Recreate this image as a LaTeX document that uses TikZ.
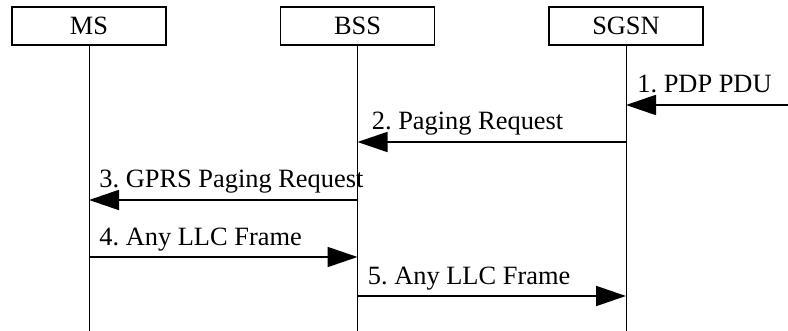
\documentclass[tikz,border=0pt]{standalone}
\usepackage{fontspec}
\setmainfont{Liberation Serif}
\usetikzlibrary{arrows.meta}
\frenchspacing
\begin{document}
\begin{tikzpicture}[x=0.5pt, y=-0.5pt, >={Triangle[length=15pt,width=10pt]},
    entity/.style={draw, line width=0.65pt, minimum width=77pt, minimum height=19pt,
        inner sep=0pt, font=\fontsize{13.2}{15}\selectfont},
    life/.style={line width=0.5pt},
    msg/.style={->, line width=0.9pt},
    lbl/.style={anchor=base west, inner sep=0pt, font=\fontsize{13.2}{15}\selectfont}]
    \useasboundingbox (0,0) rectangle (788,331);

    \node[entity] (ms) at (89,26) {MS};
    \node[entity] (bss) at (357.5,26) {BSS};
    \node[entity] (sgsn) at (626,26) {SGSN};

    \coordinate (bottom) at (0,331);
    \draw[life] (ms) -- (ms |- bottom);
    \draw[life] (bss) -- (bss |- bottom);
    \draw[life] (sgsn) -- (sgsn |- bottom);

    % message levels
    \coordinate (m1) at (788,105);
    \coordinate (m2) at (0,142);
    \coordinate (m3) at (0,200);
    \coordinate (m4) at (0,257);
    \coordinate (m5) at (0,296);

    \draw[msg] (m1) -- (sgsn |- m1);
    \node[lbl] (l1) at ([shift={(11,-12)}]sgsn |- m1) {1. PDP PDU};

    \draw[msg] (sgsn |- m2) -- (bss |- m2);
    \node[lbl] (l2) at ([shift={(14,-12)}]bss |- m2) {2. Paging Request};

    \draw[msg] (bss |- m3) -- (ms |- m3);
    \node[lbl] (l3) at ([shift={(10,-12)}]ms |- m3) {3. GPRS Paging Request};

    \draw[msg] (ms |- m4) -- (bss |- m4);
    \node[lbl] (l4) at ([shift={(10,-11)}]ms |- m4) {4. Any LLC Frame};

    \draw[msg] (bss |- m5) -- (sgsn |- m5);
    \node[lbl] (l5) at ([shift={(10,-11)}]bss |- m5) {5. Any LLC Frame};
\end{tikzpicture}
\end{document}
